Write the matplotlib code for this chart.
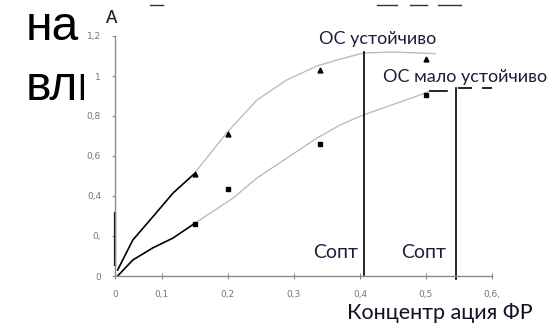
import matplotlib
matplotlib.use("Agg")
import matplotlib.pyplot as plt  # noqa: E402
from matplotlib.lines import Line2D  # noqa: E402
from matplotlib.patches import Rectangle  # noqa: E402

W, H = 559, 327

# Measured points (concentration, absorbance)
conc = [0.15, 0.2, 0.34, 0.5]
a_stable = [0.51, 0.71, 1.03, 1.085]
a_unstable = [0.26, 0.435, 0.66, 0.905]

# Hand-drawn trend curves
stable_start_x = [0.033, 0.056, 0.086, 0.117, 0.148]
stable_start_y = [0.03, 0.18, 0.295, 0.415, 0.508]
stable_x = [0.148, 0.198, 0.244, 0.289, 0.335, 0.365, 0.405, 0.45, 0.514]
stable_y = [0.508, 0.715, 0.88, 0.98, 1.05, 1.08, 1.115, 1.12, 1.112]

unstable_start_x = [0.033, 0.056, 0.086, 0.117, 0.147]
unstable_start_y = [0.0, 0.08, 0.14, 0.19, 0.257]
unstable_x = [0.147, 0.208, 0.244, 0.335, 0.37, 0.405, 0.461, 0.495, 0.506]
unstable_y = [0.257, 0.39, 0.49, 0.69, 0.755, 0.805, 0.87, 0.91, 0.925]
plateau_x = [0.506, 0.532]
plateau_y = [0.925, 0.925]
plateau_dash_x = [0.548, 0.6]
plateau_dash_y = [0.94, 0.94]

# Optimal concentrations
c_opt = [0.406, 0.545]
c_opt_top = [1.12, 0.94]

x_ticks = [0.029, 0.1, 0.2, 0.3, 0.4, 0.5, 0.6]
x_labels = ["0", "0,1", "0,2", "0,3", "0,4", "0,5", "0,6,"]
y_ticks = [0, 0.2, 0.4, 0.6, 0.8, 1.0, 1.2]
y_labels = ["0", "0,", "0,4", "0,6", "0,8", "1", "1,2"]

TXT = "#1e1e3c"
GREY = "#8c8c8c"


def fx(px):
    return px / W


def fy(py):
    return 1 - py / H


fig = plt.figure(figsize=(W / 100, H / 100), dpi=100)
fig.patch.set_facecolor("white")

# slide text sitting behind the chart
fig.text(fx(26), fy(40), "на", fontsize=34.5, family="Liberation Sans",
         color="black", va="baseline", zorder=0)
fig.text(fx(26), fy(100), "вли", fontsize=34.5, family="Liberation Sans",
         color="black", va="baseline", zorder=0)
fig.add_artist(Rectangle((fx(84), 0), 1, fy(52), transform=fig.transFigure,
                         facecolor="white", edgecolor="none", zorder=0.5))

ax = fig.add_axes([fx(115), fy(276), 377 / W, 240 / H], zorder=1)
ax.set_facecolor("none")
ax.set_xlim(0.029, 0.6)
ax.set_ylim(0, 1.2)
for s in ("top", "right"):
    ax.spines[s].set_visible(False)
for s in ("left", "bottom"):
    ax.spines[s].set_color(GREY)
    ax.spines[s].set_linewidth(1)

ax.set_xticks(x_ticks, x_labels)
ax.set_yticks(y_ticks, y_labels)
ax.tick_params(axis="x", direction="inout", length=4, width=0.8, color=GREY,
               labelsize=6.5, labelcolor="#777777", pad=8)
ax.tick_params(axis="y", direction="out", length=2, width=0.8, color=GREY,
               labelsize=6.5, labelcolor="#777777", pad=8)
for lab in ax.get_xticklabels() + ax.get_yticklabels():
    lab.set_family("DejaVu Sans")

# curves
ax.plot(stable_x, stable_y, color="#bdbdbd", lw=1.0)
ax.plot(unstable_x, unstable_y, color="#bdbdbd", lw=1.0)
ax.plot(stable_start_x, stable_start_y, color="black", lw=1.2)
ax.plot(unstable_start_x, unstable_start_y, color="black", lw=1.2)
ax.plot(plateau_x, plateau_y, color="black", lw=1.2)
ax.plot(plateau_dash_x, plateau_dash_y, color="black", lw=1.2,
        linestyle=(0, (8.4, 6)), clip_on=False)

# thick mark on the ordinate
ax.plot([0.029, 0.029], [0.055, 0.315], color="black", lw=1.6, clip_on=False)

ax.plot(conc, a_stable, linestyle="none", marker="^", ms=3.5, color="black")
ax.plot(conc, a_unstable, linestyle="none", marker="s", ms=3.2, color="black")

for x, top in zip(c_opt, c_opt_top):
    ax.plot([x, x], [-0.015 if x > 0.5 else 0.005, top], color="black", lw=1.2,
            clip_on=False)

fam = ["Lato", "DejaVu Sans"]
fig.text(fx(378), fy(39), "ОС устойчиво", fontsize=13, family=fam,
         color=TXT, ha="center", va="center", zorder=3)
fig.text(fx(465), fy(77), "ОС мало устойчиво", fontsize=13, family=fam,
         color=TXT, ha="center", va="center", zorder=3)
fig.text(fx(336), fy(252), "Сопт", fontsize=14, family=fam,
         color=TXT, ha="center", va="center", zorder=3)
fig.text(fx(424), fy(252), "Сопт", fontsize=14, family=fam,
         color=TXT, ha="center", va="center", zorder=3)
fig.text(fx(440), fy(313), "Концентр ация ФР", fontsize=15.5, family=fam,
         color="#111122", ha="center", va="center", zorder=3)
fig.text(fx(111), fy(18), "А", fontsize=12, family=fam, weight="semibold",
         color=TXT, ha="center", va="center", zorder=3)

# stray strokes along the top edge
for x1, x2 in [(150, 163), (377, 397), (410, 427), (438, 461)]:
    fig.add_artist(Line2D([fx(x1), fx(x2)], [fy(5), fy(5)],
                          transform=fig.transFigure, color="#333333",
                          lw=1.0, zorder=3))

fig.savefig("out.png", dpi=100)
